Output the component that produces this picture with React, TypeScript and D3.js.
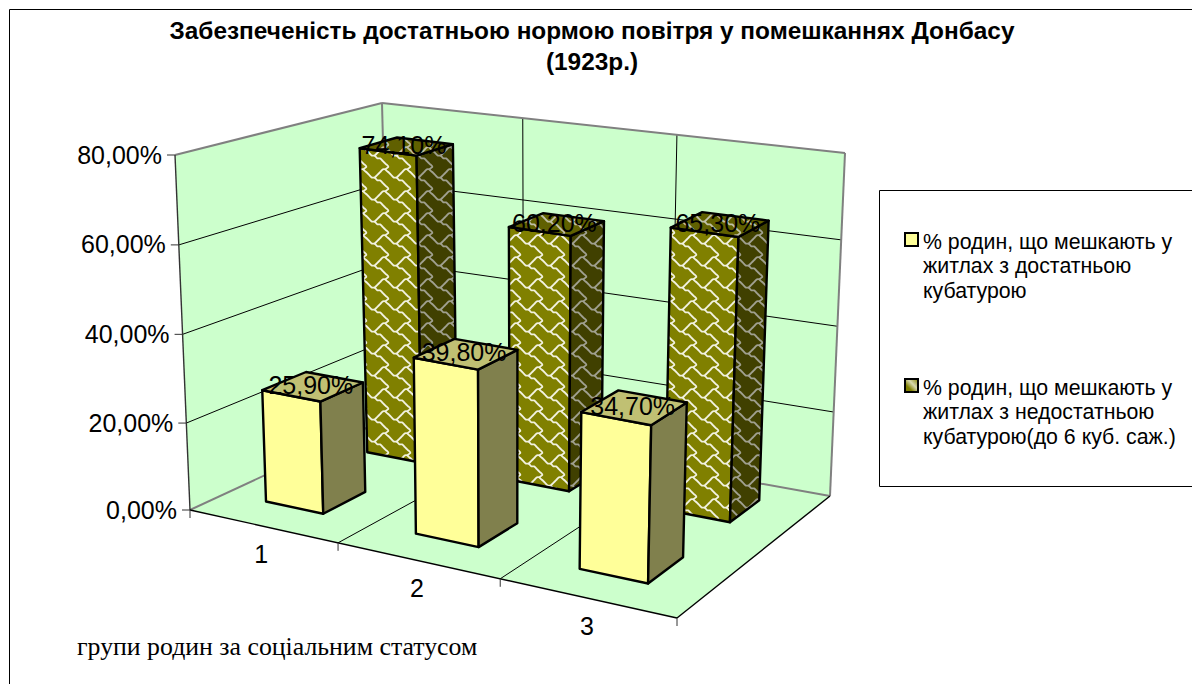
import React from "react";
import * as d3 from "d3";

const W = 1192, H = 684;
const categories = ["1", "2", "3"];
const seriesNames = [
  ["% родин, що мешкають у", "житлах з достатньою", "кубатурою"],
  ["% родин, що мешкають у", "житлах з недостатньою", "кубатурою(до 6 куб. саж.)"],
];
const sufficient = [25.9, 39.8, 34.7];
const insufficient = [74.1, 60.2, 65.3];
const valueTicks = [0, 20, 40, 60, 80];
const titleLines = ["Забезпеченість достатньою нормою повітря у помешканнях Донбасу", "(1923р.)"];
const xAxisTitle = "групи родин за соціальним статусом";

type P = [number, number];
const lerp = (a: P, b: P, t: number): P => [a[0] + (b[0] - a[0]) * t, a[1] + (b[1] - a[1]) * t];
const uWarp = d3.scaleLinear().domain([0, 1 / 6, 2 / 6, 3 / 6, 4 / 6, 5 / 6, 1]).range([0, 0.142, 0.304, 0.462, 0.637, 0.811, 1]);
const vWarp = d3.scalePow().exponent(0.85).domain([0, 1]).range([0, 1]);
const yFrac = d3.scalePow().exponent(1.015).domain([0, 80]).range([0, 1]);

const plane = (fl: P, fr: P, br: P, bl: P) => (u: number, v: number): P => {
  const uu = uWarp(u), vv = vWarp(v);
  return lerp(lerp(fl, fr, uu), lerp(bl, br, uu), vv);
};
const floorPlane = plane([190, 510], [677, 618], [830, 496], [390, 417]);
const ceilPlane = plane([175, 155], [686, 239], [845, 153], [382, 103]);
const project = (u: number, v: number, val: number): P => lerp(floorPlane(u, v), ceilPlane(u, v), yFrac(val));

const xBand = d3.scaleBand<string>().domain(categories).range([0, 1]).paddingInner(0.605).paddingOuter(0.3025).align(0.48);
const zBand = d3.scaleBand<string>().domain(["s1", "s2"]).range([0, 1]).paddingInner(0.6).paddingOuter(0.26);
const xEdge = d3.scaleLinear().domain([0, 3]).range([0, 1]);

const poly = (pts: P[]) => (d3.line()(pts) as string) + "Z";
const seg = (a: P, b: P) => d3.line()([a, b]) as string;

const olive = { front: "url(#shFront)", side: "url(#shSide)", top: "url(#shTop)" };
const yellow = { front: "#FFFF99", side: "#80804D", top: "#C0C073" };

function Bar({ cat, ser, value, look }: { cat: string; ser: string; value: number; look: typeof olive }) {
  const u0 = xBand(cat)!, u1 = u0 + xBand.bandwidth();
  const v0 = zBand(ser)!, v1 = v0 + zBand.bandwidth();
  const fb = project(u0, v0, 0), fr = project(u1, v0, 0), br = project(u1, v1, 0);
  const ft = project(u0, v0, value), frt = project(u1, v0, value), brt = project(u1, v1, value), blt = project(u0, v1, value);
  return (
    <g stroke="#000" strokeWidth={2.4} strokeLinejoin="round">
      <path d={poly([fb, fr, frt, ft])} fill={look.front} />
      <path d={poly([fr, br, brt, frt])} fill={look.side} />
      <path d={poly([ft, frt, brt, blt])} fill={look.top} />
    </g>
  );
}

const shingleMain: P[] = [[0, 1], [1, 2], [2, 3], [3, 3], [4, 4], [5, 4], [6, 5], [7, 6], [8, 7], [7, 8], [8, 9]];
const shingleBranch: P[] = [[7, 8], [6, 8], [5, 9], [4, 10], [3, 11]];

function ShinglePattern({ id, bg, fg }: { id: string; bg: string; fg: string }) {
  const s = 2.75;
  const cell = 8 * s;
  const shift = [-8, 0, 8];
  const line = d3.line<P>().x(d => (d[0] + 0.5) * s).y(d => (d[1] + 0.5) * s).curve(d3.curveCatmullRom);
  return (
    <pattern id={id} patternUnits="userSpaceOnUse" width={cell} height={cell} x={365} y={168}>
      <rect width={cell} height={cell} fill={bg} />
      {shift.flatMap(dx =>
        shift.map(dy => (
          <g key={`${dx}:${dy}`} transform={`translate(${dx * s},${dy * s})`} fill="none" stroke={fg} strokeWidth={1.8} strokeLinejoin="round" strokeLinecap="round">
            <path d={line(shingleMain) as string} />
            <path d={line(shingleBranch) as string} />
          </g>
        ))
      )}
    </pattern>
  );
}

export default function App() {
  const wallFill = "#CCFFCC";
  const grey = "#808080";
  const fl = project(0, 0, 0), fr = project(1, 0, 0), br = project(1, 1, 0), bl = project(0, 1, 0);
  const tl = project(0, 0, 80), tbl = project(0, 1, 80), tbr = project(1, 1, 80);
  const barsFor = (ser: string, vals: number[], look: typeof olive) =>
    categories.map((c, i) => <Bar key={ser + c} cat={c} ser={ser} value={vals[i]} look={look} />);
  const labelsFor = (ser: string, vals: number[]) =>
    categories.map((c, i) => {
      const u0 = xBand(c)!, v0 = zBand(ser)!;
      const p = project(u0 + xBand.bandwidth() / 2, v0 + zBand.bandwidth() / 2, vals[i]);
      return (
        <text key={ser + c} x={p[0] - 1} y={p[1] + 8} textAnchor="middle" fontSize={25} fill="#000">
          {vals[i].toFixed(2).replace(".", ",") + "%"}
        </text>
      );
    });
  return (
    <svg width={W} height={H} style={{ position: "absolute", left: 0, top: 0, background: "#fff" }} fontFamily="'Liberation Sans', Arial, sans-serif">
      <defs>
        <ShinglePattern id="shFront" bg="#808000" fg="#F2F2E0" />
        <ShinglePattern id="shSide" bg="#404000" fg="#A0A090" />
        <ShinglePattern id="shTop" bg="#606000" fg="#C0C0A8" />
        <linearGradient id="legendOlive" x1="0" y1="1" x2="1" y2="0">
          <stop offset="0.3" stopColor="#808000" />
          <stop offset="0.6" stopColor="#D8D8B0" />
          <stop offset="1" stopColor="#808000" />
        </linearGradient>
      </defs>

      <path d="M9.5,684V9.5H1192" fill="none" stroke="#000" strokeWidth={1} />

      {titleLines.map((t, i) => (
        <text key={i} x={592} y={39 + i * 31} textAnchor="middle" fontWeight="bold" fontSize={24.4} fill="#000">{t}</text>
      ))}

      <path d={poly([fl, bl, tbl, tl])} fill={wallFill} />
      <path d={poly([bl, br, tbr, tbl])} fill={wallFill} />
      <path d={poly([fl, fr, br, bl])} fill={wallFill} />

      {valueTicks.slice(1, -1).map(v => (
        <g key={v} fill="none" stroke="#000" strokeWidth={1}>
          <path d={seg(project(0, 0, v), project(0, 1, v))} />
          <path d={seg(project(0, 1, v), project(1, 1, v))} />
        </g>
      ))}
      {[1, 2].map(k => (
        <g key={k} fill="none" stroke="#000" strokeWidth={1}>
          <path d={seg(project(xEdge(k), 0, 0), project(xEdge(k), 1, 0))} />
          <path d={seg(project(xEdge(k), 1, 0), project(xEdge(k), 1, 80))} />
        </g>
      ))}

      <g fill="none" stroke={grey} strokeWidth={2}>
        <path d={seg(tl, tbl)} />
        <path d={seg(tbl, tbr)} />
        <path d={seg(tbl, bl)} />
        <path d={seg(tbr, br)} />
        <path d={seg(fl, bl)} />
        <path d={seg(bl, br)} />
      </g>
      <g fill="none" stroke="#000" strokeWidth={1.4}>
        <path d={seg(fl, tl)} stroke="#333" />
        <path d={seg(fl, fr)} />
        <path d={seg(fr, br)} />
      </g>

      {valueTicks.map(v => {
        const p = project(0, 0, v);
        return (
          <g key={v}>
            <path d={seg([p[0] - 8, p[1]], p)} stroke="#333" fill="none" />
            <text x={p[0] - 13} y={p[1] + 8.5} textAnchor="end" fontSize={25} fill="#000">
              {v.toFixed(2).replace(".", ",") + "%"}
            </text>
          </g>
        );
      })}
      {[0, 1, 2, 3].map(k => {
        const p = project(xEdge(k), 0, 0);
        return <path key={k} d={seg(p, [p[0], p[1] + 8])} stroke="#333" fill="none" />;
      })}
      {categories.map((c, i) => {
        const p = project(xEdge(i + 0.5), 0, 0);
        return <text key={c} x={p[0] + 2} y={p[1] + 37.5} textAnchor="middle" fontSize={25} fill="#000">{c}</text>;
      })}

      {barsFor("s2", insufficient, olive)}
      {barsFor("s1", sufficient, yellow)}
      {labelsFor("s2", insufficient)}
      {labelsFor("s1", sufficient)}

      <path d="M1192,190.5H879.5V486.5H1192" fill="#fff" stroke="#000" strokeWidth={1} />
      {seriesNames.map((lines, s) => {
        const y0 = 249 + s * 146;
        return (
          <g key={s}>
            <rect x={905} y={y0 - 16} width={13} height={13} fill={s === 0 ? "#FFFF99" : "url(#legendOlive)"} stroke="#000" strokeWidth={2} />
            {lines.map((l, i) => (
              <text key={i} x={923} y={y0 + i * 24.3} fontSize={21.3} fill="#000">{l}</text>
            ))}
          </g>
        );
      })}

      <text x={77} y={655} fontFamily="'Liberation Serif', 'Times New Roman', serif" fontSize={25.8} fill="#000">{xAxisTitle}</text>
    </svg>
  );
}
